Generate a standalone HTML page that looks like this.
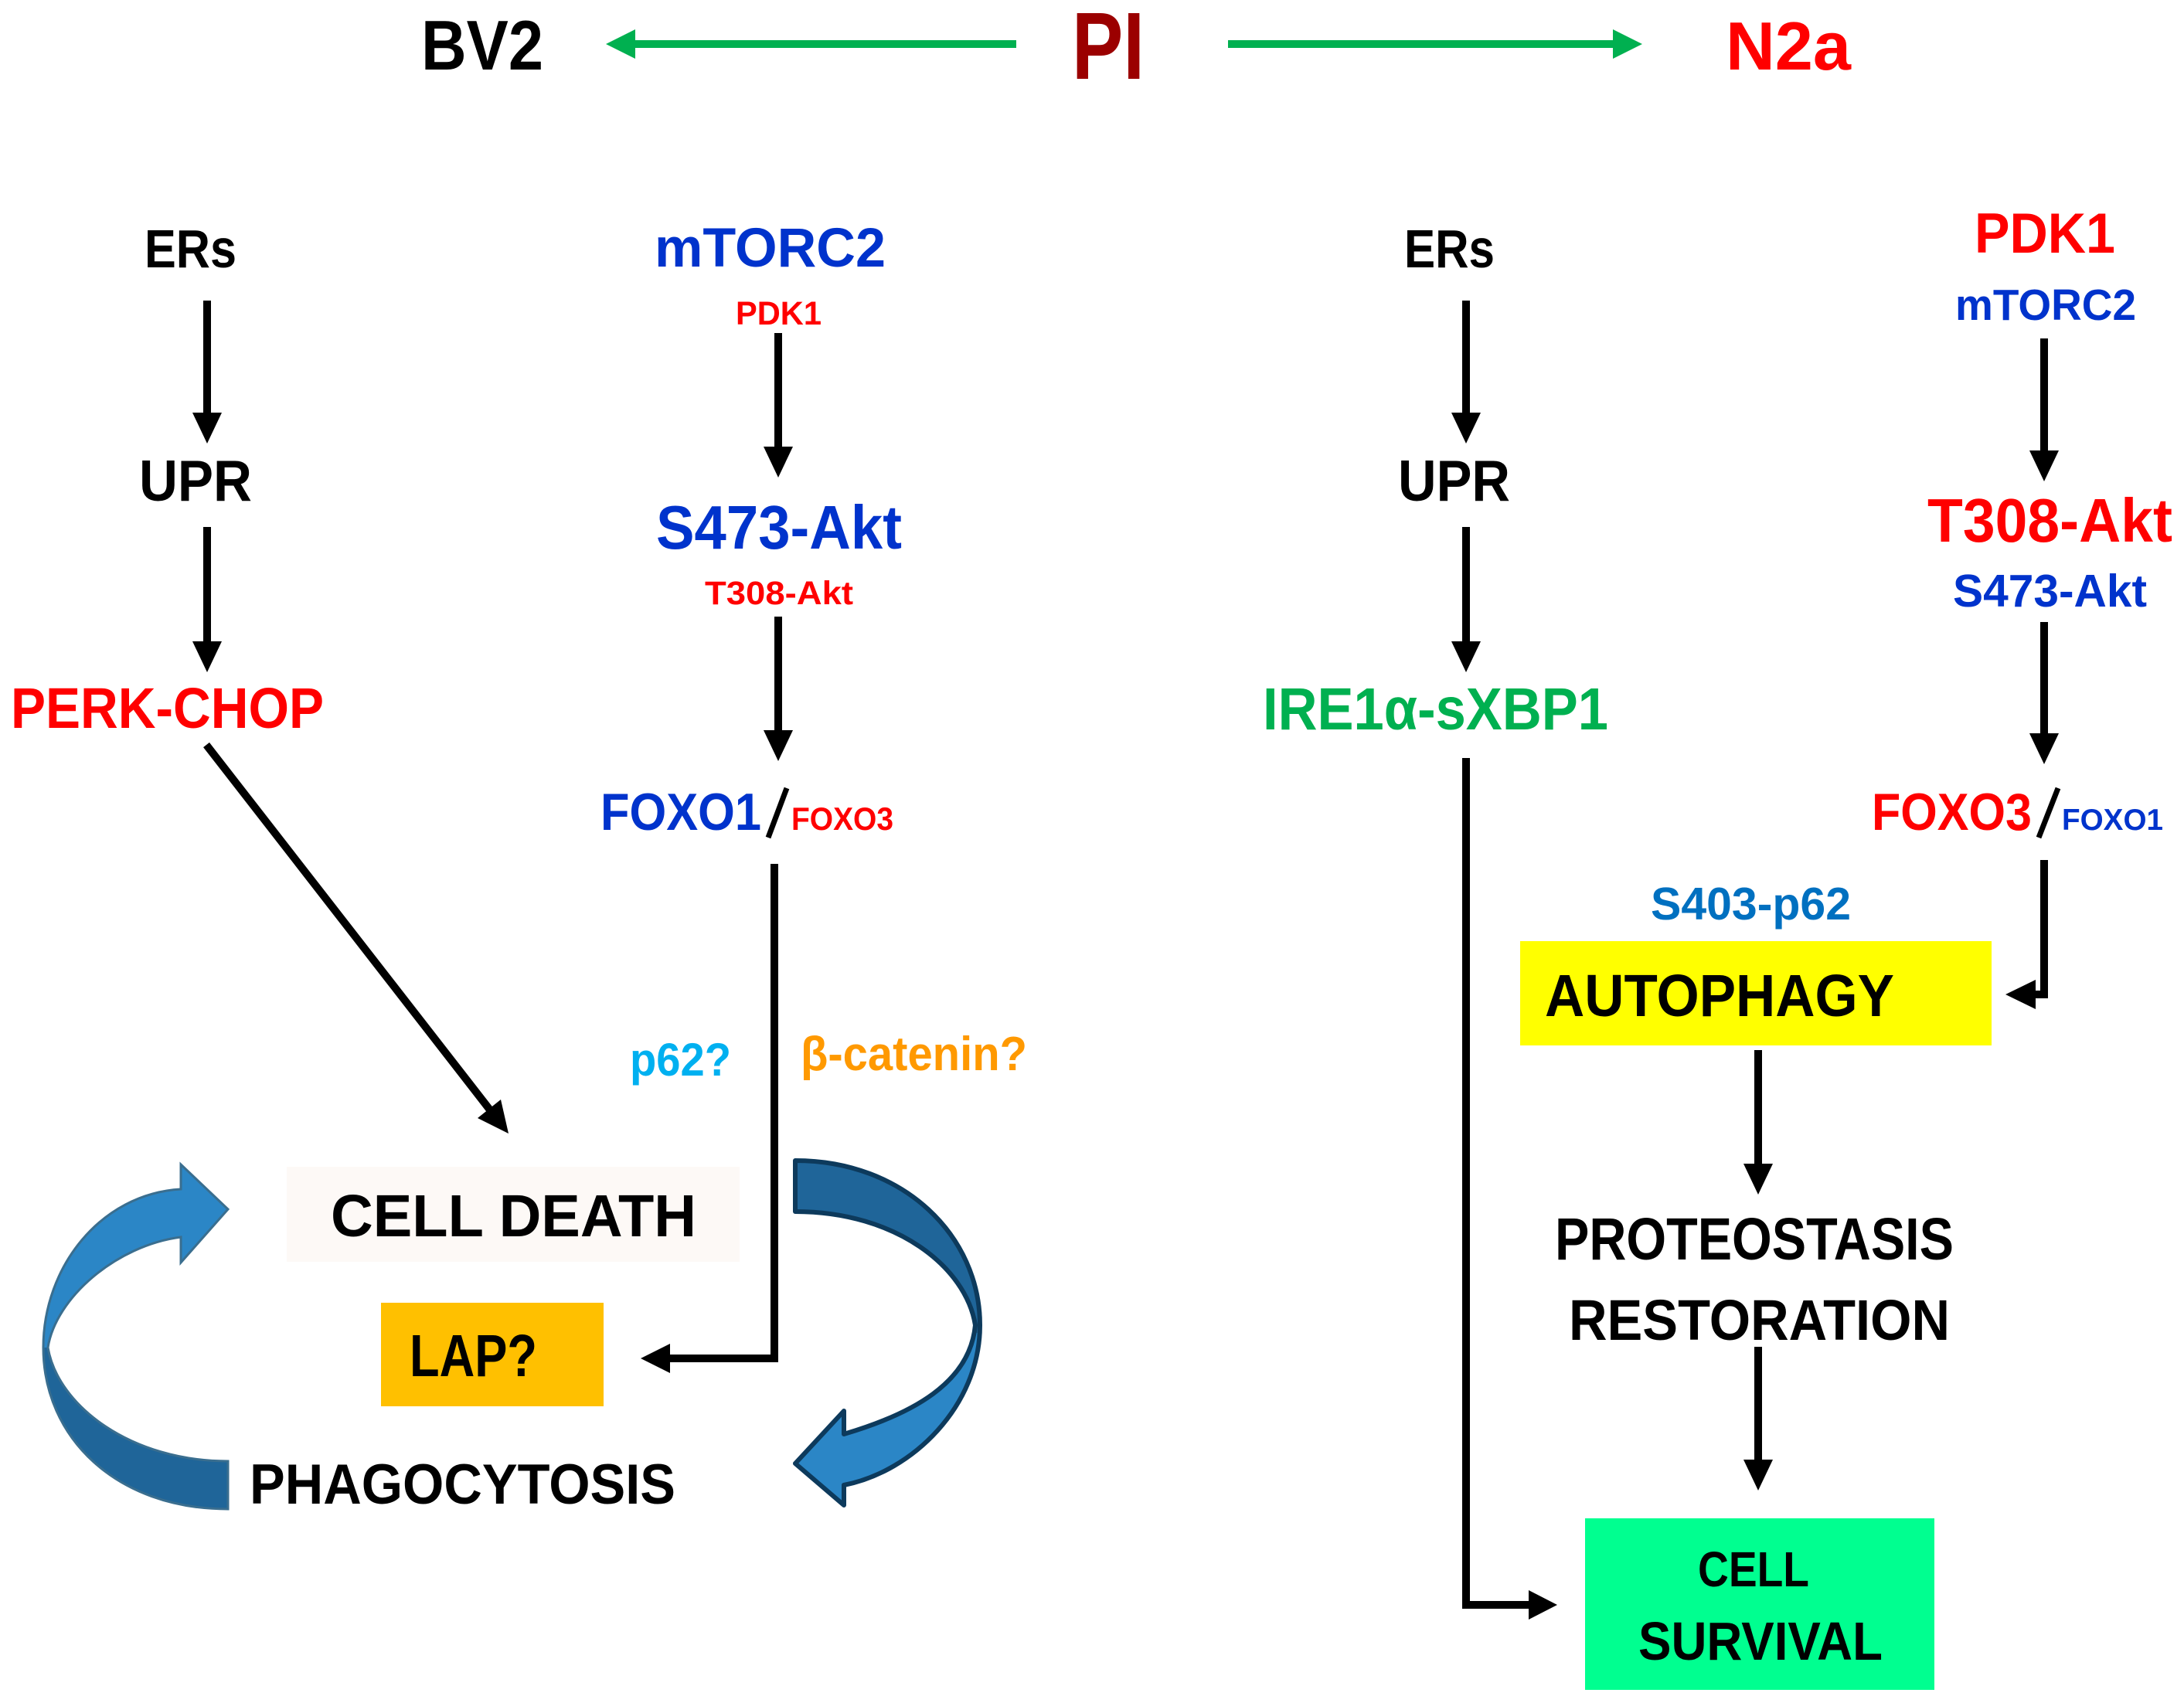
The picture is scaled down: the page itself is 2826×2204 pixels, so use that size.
<!DOCTYPE html>
<html><head><meta charset="utf-8"><style>
html,body{margin:0;padding:0;background:#fff}
svg{display:block}
text{font-family:"Liberation Sans",sans-serif;font-weight:bold}
</style></head><body>
<svg width="2826" height="2204" viewBox="0 0 2826 2204" xmlns="http://www.w3.org/2000/svg">
<defs>
<linearGradient id="gl" gradientUnits="userSpaceOnUse" x1="0" y1="1500" x2="0" y2="1960">
<stop offset="0" stop-color="#2b86c6"/><stop offset="0.53" stop-color="#2b86c6"/><stop offset="0.53" stop-color="#1f6599"/><stop offset="1" stop-color="#1f6599"/>
</linearGradient>
<linearGradient id="gr" gradientUnits="userSpaceOnUse" x1="0" y1="1500" x2="0" y2="1950">
<stop offset="0" stop-color="#1f6599"/><stop offset="0.5" stop-color="#1f6599"/><stop offset="0.5" stop-color="#2b86c6"/><stop offset="1" stop-color="#2b86c6"/>
</linearGradient>
</defs>
<rect width="2826" height="2204" fill="#fff"/>

<!-- top row -->
<text x="545" y="90" font-size="91" fill="#000" textLength="158" lengthAdjust="spacingAndGlyphs">BV2</text>
<text x="1387" y="102" font-size="123" fill="#9b0000" textLength="94" lengthAdjust="spacingAndGlyphs">PI</text>
<text x="2233" y="90" font-size="88" fill="#ff0000" textLength="162" lengthAdjust="spacingAndGlyphs">N2a</text>
<line x1="1315" y1="57" x2="820" y2="57" stroke="#00b050" stroke-width="10"/>
<polygon points="784,57 822,38 822,76" fill="#00b050"/>
<line x1="1589" y1="57" x2="2090" y2="57" stroke="#00b050" stroke-width="10"/>
<polygon points="2125,57 2087,38 2087,76" fill="#00b050"/>

<!-- left column texts -->
<text x="187" y="346" font-size="70" fill="#000" textLength="119" lengthAdjust="spacingAndGlyphs">ERs</text>
<text x="180" y="648" font-size="75" fill="#000" textLength="146" lengthAdjust="spacingAndGlyphs">UPR</text>
<text x="14" y="942" font-size="74" fill="#ff0000" textLength="405" lengthAdjust="spacingAndGlyphs">PERK-CHOP</text>
<text x="847" y="345" font-size="71" fill="#0033cc" textLength="299" lengthAdjust="spacingAndGlyphs">mTORC2</text>
<text x="952" y="420" font-size="43" fill="#ff0000" textLength="111" lengthAdjust="spacingAndGlyphs">PDK1</text>
<text x="849" y="710" font-size="80" fill="#0033cc" textLength="318" lengthAdjust="spacingAndGlyphs">S473-Akt</text>
<text x="912" y="782" font-size="43" fill="#ff0000" textLength="192" lengthAdjust="spacingAndGlyphs">T308-Akt</text>
<text x="777" y="1074" font-size="68" fill="#0033cc" textLength="208" lengthAdjust="spacingAndGlyphs">FOXO1</text>
<line x1="1018" y1="1020" x2="994" y2="1084" stroke="#000" stroke-width="7"/>
<text x="1024" y="1074" font-size="42" fill="#ff0000" textLength="132" lengthAdjust="spacingAndGlyphs">FOXO3</text>
<text x="815" y="1392" font-size="60" fill="#00b0f0" textLength="131" lengthAdjust="spacingAndGlyphs">p62?</text>
<text x="1036" y="1385" font-size="62" fill="#ff9900" textLength="293" lengthAdjust="spacingAndGlyphs">β-catenin?</text>

<rect x="371" y="1510" width="586" height="123" fill="#fdf9f6"/>
<text x="428" y="1600" font-size="77" fill="#000" textLength="473" lengthAdjust="spacingAndGlyphs">CELL DEATH</text>
<rect x="493" y="1686" width="288" height="134" fill="#ffc000"/>
<text x="530" y="1781" font-size="77" fill="#000" textLength="165" lengthAdjust="spacingAndGlyphs">LAP?</text>
<text x="323" y="1946" font-size="73" fill="#000" textLength="551" lengthAdjust="spacingAndGlyphs">PHAGOCYTOSIS</text>

<!-- curved arrows -->
<path d="M295,1953 C150,1953 56,1860 56,1744 C56,1640 130,1545 234,1539 L234,1507 L295,1565 L234,1634 L234,1601 C150,1612 72,1680 62,1744 C75,1820 170,1891 295,1891 Z" fill="url(#gl)" stroke="#3a6e8f" stroke-width="3"/>
<path d="M1029,1502 C1170,1502 1268,1600 1268,1715 C1268,1820 1180,1905 1092,1922 L1092,1948 L1029,1894 L1092,1826 L1092,1856 C1180,1830 1255,1790 1262,1715 C1250,1640 1160,1568 1029,1568 Z" fill="url(#gr)" stroke="#0d3a5c" stroke-width="6" stroke-linejoin="round"/>

<!-- left connectors -->
<g stroke="#000" stroke-width="10" fill="none">
<line x1="268" y1="389" x2="268" y2="540"/>
<line x1="268" y1="682" x2="268" y2="835"/>
<line x1="1007" y1="431" x2="1007" y2="585"/>
<line x1="1007" y1="798" x2="1007" y2="950"/>
<line x1="267" y1="964" x2="636" y2="1439"/>
<polyline points="1002,1118 1002,1758 865,1758"/>
</g>
<g fill="#000">
<polygon points="249,534 287,534 268,574"/>
<polygon points="249,830 287,830 268,870"/>
<polygon points="988,578 1026,578 1007,618"/>
<polygon points="988,945 1026,945 1007,985"/>
<polygon points="658,1467 618,1447 648,1423"/>
<polygon points="829,1758 867,1739 867,1777"/>
</g>

<!-- right column texts -->
<text x="1817" y="346" font-size="70" fill="#000" textLength="117" lengthAdjust="spacingAndGlyphs">ERs</text>
<text x="1809" y="648" font-size="75" fill="#000" textLength="145" lengthAdjust="spacingAndGlyphs">UPR</text>
<text x="1634" y="944" font-size="77" fill="#00b050" textLength="447" lengthAdjust="spacingAndGlyphs">IRE1α-sXBP1</text>
<text x="2555" y="327" font-size="73" fill="#ff0000" textLength="182" lengthAdjust="spacingAndGlyphs">PDK1</text>
<text x="2530" y="414" font-size="57" fill="#0033cc" textLength="234" lengthAdjust="spacingAndGlyphs">mTORC2</text>
<text x="2494" y="701" font-size="80" fill="#ff0000" textLength="317" lengthAdjust="spacingAndGlyphs">T308-Akt</text>
<text x="2527" y="785" font-size="59" fill="#0033cc" textLength="251" lengthAdjust="spacingAndGlyphs">S473-Akt</text>
<text x="2422" y="1074" font-size="68" fill="#ff0000" textLength="207" lengthAdjust="spacingAndGlyphs">FOXO3</text>
<line x1="2663" y1="1020" x2="2638" y2="1084" stroke="#000" stroke-width="7"/>
<text x="2668" y="1074" font-size="39" fill="#0033cc" textLength="131" lengthAdjust="spacingAndGlyphs">FOXO1</text>
<text x="2136" y="1190" font-size="59" fill="#0070c0" textLength="259" lengthAdjust="spacingAndGlyphs">S403-p62</text>

<rect x="1967" y="1218" width="610" height="135" fill="#ffff00"/>
<text x="1999" y="1315" font-size="77" fill="#000" textLength="452" lengthAdjust="spacingAndGlyphs">AUTOPHAGY</text>
<text x="2012" y="1630" font-size="77" fill="#000" textLength="516" lengthAdjust="spacingAndGlyphs">PROTEOSTASIS</text>
<text x="2030" y="1734" font-size="74" fill="#000" textLength="493" lengthAdjust="spacingAndGlyphs">RESTORATION</text>
<rect x="2051" y="1965" width="452" height="222" fill="#00ff90"/>
<text x="2197" y="2053" font-size="64" fill="#000" textLength="144" lengthAdjust="spacingAndGlyphs">CELL</text>
<text x="2120" y="2148" font-size="70" fill="#000" textLength="316" lengthAdjust="spacingAndGlyphs">SURVIVAL</text>

<!-- right connectors -->
<g stroke="#000" stroke-width="10" fill="none">
<line x1="1897" y1="389" x2="1897" y2="540"/>
<line x1="1897" y1="682" x2="1897" y2="835"/>
<polyline points="1897,981 1897,2077 1980,2077"/>
<line x1="2645" y1="438" x2="2645" y2="590"/>
<line x1="2645" y1="805" x2="2645" y2="955"/>
<polyline points="2645,1113 2645,1287 2632,1287"/>
<line x1="2275" y1="1359" x2="2275" y2="1510"/>
<line x1="2275" y1="1743" x2="2275" y2="1895"/>
</g>
<g fill="#000">
<polygon points="1878,534 1916,534 1897,574"/>
<polygon points="1878,830 1916,830 1897,870"/>
<polygon points="2015,2077 1978,2058 1978,2096"/>
<polygon points="2626,583 2664,583 2645,623"/>
<polygon points="2626,949 2664,949 2645,989"/>
<polygon points="2595,1287 2634,1268 2634,1306"/>
<polygon points="2256,1506 2294,1506 2275,1546"/>
<polygon points="2256,1889 2294,1889 2275,1929"/>
</g>
</svg>
</body></html>
